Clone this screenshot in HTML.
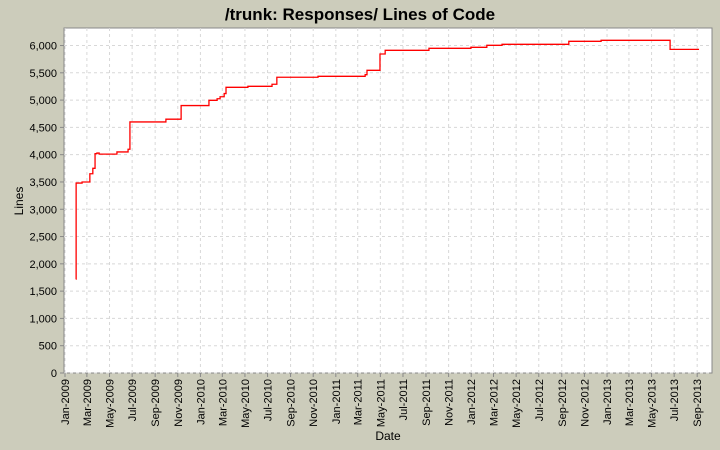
<!DOCTYPE html>
<html><head><meta charset="utf-8"><style>
body{margin:0;background:#ccccbb;}
svg{display:block;font-family:"Liberation Sans",sans-serif;}
</style></head><body>
<svg id="c" width="720" height="450">
<rect width="720" height="450" fill="#ccccbb"/>
<text x="360" y="20" text-anchor="middle" font-size="17" font-weight="bold" fill="#000">/trunk: Responses/ Lines of Code</text>
<rect x="64" y="28" width="648" height="345" fill="#fff" stroke="#888"/>
<g id="grid"></g><g id="ticks"></g>
<text x="23" y="201" transform="rotate(-90 23 201)" text-anchor="middle" font-size="12">Lines</text>
<text x="388" y="440" text-anchor="middle" font-size="12">Date</text>
<path id="line" fill="none" stroke="#ff0000" stroke-width="1.3"/>
</svg>
<script>
const dates=['2009-01-30','2009-01-31','2009-02-16','2009-03-09','2009-03-17','2009-03-23','2009-03-28','2009-04-03','2009-05-21','2009-06-20','2009-06-25','2009-09-30','2009-11-10','2010-01-24','2010-02-15','2010-02-23','2010-03-06','2010-03-11','2010-05-09','2010-07-13','2010-07-26','2010-11-14','2011-03-21','2011-03-26','2011-04-30','2011-05-14','2011-09-09','2011-12-31','2012-02-12','2012-03-24','2012-09-20','2012-12-16','2013-06-20','2013-09-06'];
const values=[1720,3480,3500,3650,3750,4020,4030,4010,4050,4100,4600,4650,4900,4996,5025,5062,5120,5234,5253,5290,5418,5436,5466,5546,5845,5912,5949,5967,6004,6022,6077,6095,5930,5930];
const yTicks=[0,500,1000,1500,2000,2500,3000,3500,4000,4500,5000,5500,6000];
const months=['Jan','Mar','May','Jul','Sep','Nov'];
const NS='http://www.w3.org/2000/svg';
const t0=Date.UTC(2009,0,1),DAY=86400000;
function X(d){const t=typeof d==='string'?Date.parse(d):d;return 65+(t-t0)/DAY*0.371;}
function Y(v){return 373-v*0.05458;}
const grid=document.getElementById('grid'),ticks=document.getElementById('ticks');
function mk(tag,a,p){const e=document.createElementNS(NS,tag);for(const k in a)e.setAttribute(k,a[k]);p.appendChild(e);return e;}
yTicks.forEach(v=>{const y=Y(v);
 const g=mk('line',{x1:64,x2:712,y1:y,y2:y,stroke:'#d8d8d8','stroke-dasharray':'3,3'},grid);
 
 
 mk('line',{x1:60,x2:64,y1:y,y2:y,stroke:'#888'},ticks);
 const t=mk('text',{x:57,y:y+4,'text-anchor':'end','font-size':'11'},ticks);
 t.textContent=v.toLocaleString('en-US');
 
 
});
for(let yr=2009;yr<=2013;yr++)for(let m=0;m<12;m+=2){
 if(yr===2013&&m>8)break;
 const x=X(Date.UTC(yr,m,1));
 const g=mk('line',{x1:x,x2:x,y1:28,y2:373,stroke:'#d8d8d8','stroke-dasharray':'3,3'},grid);
 
 
 mk('line',{x1:x,x2:x,y1:373,y2:377,stroke:'#888'},ticks);
 const t=mk('text',{x:0,y:0,'text-anchor':'end','font-size':'11',transform:`translate(${x+4},379) rotate(-90)`},ticks);
 t.textContent=months[m/2]+'-'+yr;
 
 
}
let d='';
for(let i=0;i<dates.length;i++){
 const x=X(dates[i]),y=Y(values[i]);
 if(i===0)d='M'+x+','+y;else d+=' H'+x+' V'+y;
}
document.getElementById('line').setAttribute('d',d);
</script>
</body></html>
